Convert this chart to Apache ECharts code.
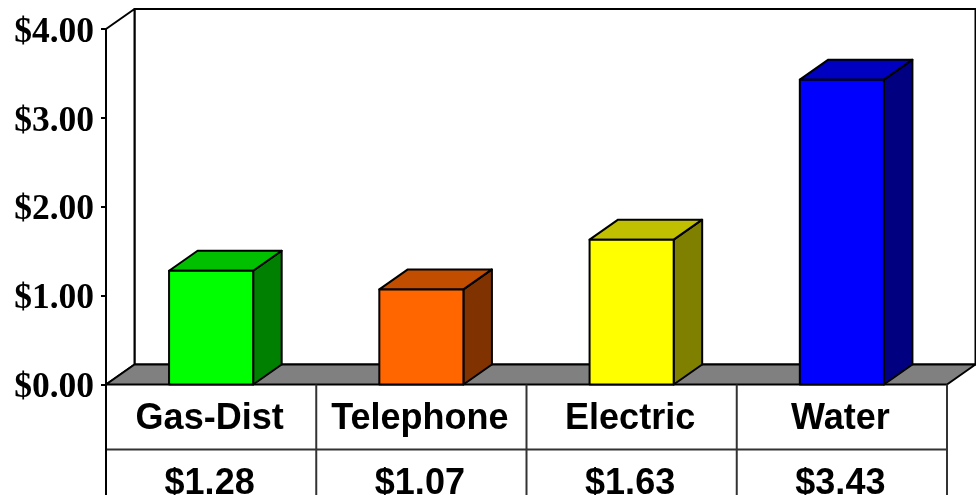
<!DOCTYPE html>
<html><head><meta charset="utf-8">
<style>html,body{margin:0;padding:0;background:#fff}#c{width:976px;height:495px}</style>
<script src="https://cdn.jsdelivr.net/npm/echarts@6/dist/echarts.min.js"></script>
</head><body><div id="c"></div>
<script>
var categories = ['Gas-Dist', 'Telephone', 'Electric', 'Water'];
var values = [1.28, 1.07, 1.63, 3.43];
var frontColors = ['#00ff00', '#ff6600', '#ffff00', '#0000ff'];
var topColors = ['#00c000', '#c04d00', '#c0c000', '#0000c0'];
var sideColors = ['#008000', '#803300', '#808000', '#000080'];
var DX = 28.5, DY = 20, ROW = 65;
function seg(x1, y1, x2, y2, color) {
  return {type: 'line', shape: {x1: x1, y1: y1, x2: x2, y2: y2},
    style: {stroke: color || '#000', lineWidth: 2}};
}
function poly(points, fill, stroke) {
  return {type: 'polygon', shape: {points: points},
    style: {fill: fill, stroke: stroke || '#000', lineWidth: 2, lineJoin: 'round'}};
}
function renderBack(params, api) {
  var r = params.coordSys, L = r.x, T = r.y, R = r.x + r.width, B = r.y + r.height;
  return {type: 'group', children: [
    poly([[L + DX, T - DY], [R + DX, T - DY], [R + DX, B - DY], [L + DX, B - DY]], '#fff'),
    poly([[L, T], [L + DX, T - DY], [L + DX, B - DY], [L, B]], '#fff'),
    poly([[L, B], [L + DX, B - DY], [R + DX, B - DY], [R, B]], '#808080'),
    seg(L, B + ROW, R, B + ROW, '#333'),
    seg(L, B, L, B + 2 * ROW),
    seg(R, B, R, B + 2 * ROW, '#333')
  ]};
}
function renderDivider(params, api) {
  var c = api.coord([api.value(0), 0]), w = api.size([1, 0])[0];
  var x = c[0] + w / 2;
  return seg(x, c[1], x, c[1] + 2 * ROW, '#333');
}
function renderBar(params, api) {
  var i = api.value(0), v = api.value(1);
  var base = api.coord([i, 0]), top = api.coord([i, v]);
  var half = api.size([1, 0])[0] * 0.2;
  var l = base[0] - half, r = base[0] + half, b = base[1], t = top[1];
  return {type: 'group', children: [
    poly([[r, b], [r + DX, b - DY], [r + DX, t - DY], [r, t]], sideColors[i]),
    poly([[l, t], [l + DX, t - DY], [r + DX, t - DY], [r, t]], topColors[i]),
    poly([[l, t], [r, t], [r, b], [l, b]], frontColors[i])
  ]};
}
var chart = echarts.init(document.getElementById('c'), null, {renderer: 'canvas'});
chart.setOption({
  animation: false,
  backgroundColor: '#fff',
  grid: {left: 106, top: 29, width: 841, height: 355.5, containLabel: false, outerBoundsMode: 'none'},
  xAxis: {
    type: 'category', data: categories,
    axisLine: {show: false}, axisTick: {show: false},
    axisLabel: {
      interval: 0, margin: 0, verticalAlign: 'top', padding: [2, 3, 0, 0],
      formatter: function (name, idx) {
        return '{a|' + name + '}\n{a|$' + values[idx].toFixed(2) + '}';
      },
      rich: {a: {fontFamily: 'Liberation Sans', fontWeight: 'bold', fontSize: 36, color: '#000', lineHeight: 65, height: 65, align: 'center'}}
    }
  },
  yAxis: {
    type: 'value', min: 0, max: 4, interval: 1,
    axisLine: {show: true, lineStyle: {color: '#000', width: 2}},
    axisTick: {show: true, length: 5, lineStyle: {color: '#000', width: 2}},
    splitLine: {show: false},
    axisLabel: {
      margin: 12,
      formatter: function (v) { return '{v|$' + v.toFixed(2) + '}'; },
      rich: {v: {color: '#000', fontFamily: 'Liberation Serif', fontWeight: 'bold', fontSize: 35.5, padding: [7, 0, 0, 0]}}
    }
  },
  series: [
    {type: 'custom', z: 1, renderItem: renderBack, data: [[0]], silent: true},
    {type: 'custom', z: 2, renderItem: renderDivider, data: [[0], [1], [2]], silent: true},
    {type: 'custom', z: 3, renderItem: renderBar, encode: {x: 0, y: 1},
      data: values.map(function (v, i) { return [i, v]; }), silent: true}
  ]
});
</script></body></html>
